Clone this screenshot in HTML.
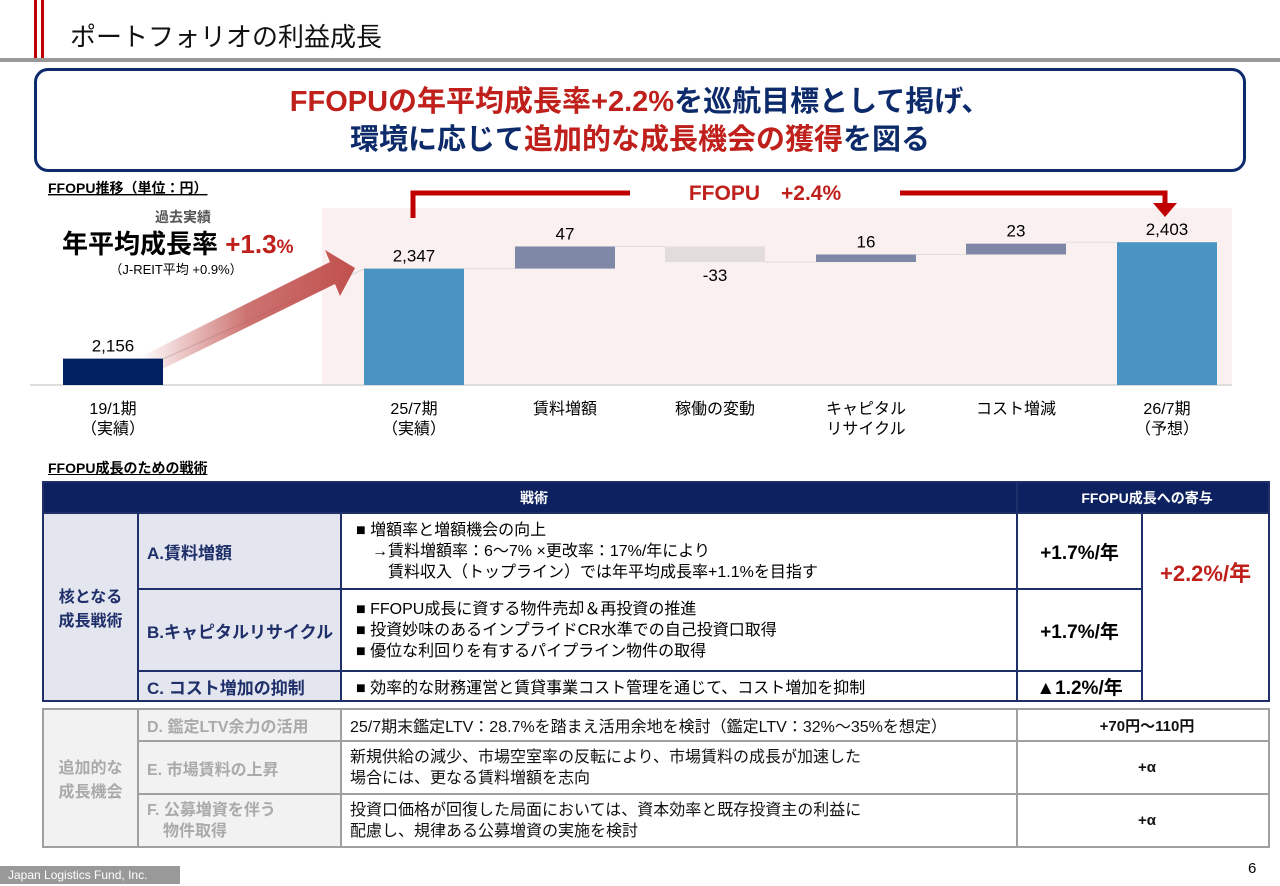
<!DOCTYPE html>
<html><head><meta charset="utf-8"><style>
body{margin:0;width:1280px;height:886px;position:relative;background:#fff;font-family:"Liberation Sans","Noto Sans CJK JP",sans-serif;overflow:hidden}
.a{position:absolute}
table{border-collapse:collapse;position:absolute;font-size:16px;table-layout:fixed}
td{border:2px solid #1f2f6a;padding:0 0 0 8px;}
.t2 td{border:2px solid #a0a0a0;color:#aaa}
</style></head><body>
<div class="a" style="left:34px;top:0;width:3px;height:62px;background:#c00000"></div>
<div class="a" style="left:41px;top:0;width:3px;height:62px;background:#c00000"></div>
<div class="a" style="left:0;top:58px;width:1280px;height:4px;background:#999"></div>
<div class="a" style="left:70px;top:17px;font-size:26px;color:#111">ポートフォリオの利益成長</div>
<div class="a" style="left:34px;top:68px;width:1206px;border:3px solid #0d2a6a;border-radius:14px;text-align:center;font-weight:bold;font-size:29px;line-height:38px;padding-top:12px;box-sizing:content-box;height:86px">
<div style="color:#c0201c">FFOPUの年平均成長率+2.2%<span style="color:#0d2a6a">を巡航目標として掲げ、</span></div>
<div style="color:#0d2a6a">環境に応じて<span style="color:#c0201c">追加的な成長機会の獲得</span>を図る</div></div>

<svg class="a" style="left:0;top:0" width="1280" height="460">
<text x="48" y="193" font-size="14" font-weight="bold" text-decoration="underline">FFOPU推移（単位：円）</text>
<rect x="322" y="208" width="910" height="177" fill="#fbf0f0"/>
<text x="183" y="222" font-size="14" fill="#555" text-anchor="middle" font-weight="bold">過去実績</text>
<text x="62" y="253" font-size="26" font-weight="bold">年平均成長率 <tspan fill="#c0201c">+1.3</tspan><tspan fill="#c0201c" font-size="19">%</tspan></text>
<text x="176" y="274" font-size="13" text-anchor="middle">（J-REIT平均 +0.9%）</text>
<line x1="163" y1="359" x2="364" y2="269" stroke="#ddd" stroke-width="1.5"/>
<defs><linearGradient id="ag" x1="0" x2="1"><stop offset="0" stop-color="#c0504d" stop-opacity="0"/><stop offset="0.5" stop-color="#c0504d" stop-opacity="0.8"/><stop offset="1" stop-color="#c0504d"/></linearGradient></defs>
<polygon points="140,357 330,262 325,250 355,268 340,296 335,284 150,375" fill="url(#ag)"/>
<line x1="30" y1="385" x2="1232" y2="385" stroke="#ddd" stroke-width="2"/>
<g id="bars"></g>
<path d="M413,218 V193 H630" stroke="#c00000" stroke-width="5" fill="none"/>
<path d="M900,193 H1165 V205" stroke="#c00000" stroke-width="5" fill="none"/>
<polygon points="1153,203 1177,203 1165,217" fill="#c00000"/>
<text x="765" y="200" font-size="21" font-weight="bold" fill="#c0201c" text-anchor="middle">FFOPU　+2.4%</text>
</svg>

<div class="a" style="left:48px;top:458px;font-size:14px;font-weight:bold;text-decoration:underline">FFOPU成長のための戦術</div>

<table style="left:42px;top:481px;width:1226px">
<colgroup><col style="width:95px"><col style="width:203px"><col style="width:676px"><col style="width:125px"><col style="width:127px"></colgroup>
<tr style="height:31px;background:#0d2160;color:#fff;font-weight:bold;font-size:14px"><td colspan="3" style="text-align:center">戦術</td><td colspan="2" style="text-align:center">FFOPU成長への寄与</td></tr>
<tr style="height:76px"><td rowspan="3" style="background:#e4e6ef;color:#1f2f6a;font-weight:bold;text-align:center;padding:0">核となる<br>成長戦術</td><td style="background:#e4e6ef;color:#1f2f6a;font-weight:bold;font-size:17px">A.賃料増額</td><td style="padding-left:14px;line-height:21px">■ 増額率と増額機会の向上<br>　→賃料増額率：6～7% ×更改率：17%/年により<br>　　賃料収入（トップライン）では年平均成長率+1.1%を目指す</td><td style="text-align:center;font-weight:bold;font-size:19px;padding:0">+1.7%/年</td><td rowspan="3" style="text-align:center;font-weight:bold;font-size:22px;color:#c0201c;padding:0 0 70px 0">+2.2%/年</td></tr>
<tr style="height:82px"><td style="background:#e4e6ef;color:#1f2f6a;font-weight:bold;font-size:17px">B.キャピタルリサイクル</td><td style="padding-left:14px;line-height:21px">■ FFOPU成長に資する物件売却＆再投資の推進<br>■ 投資妙味のあるインプライドCR水準での自己投資口取得<br>■ 優位な利回りを有するパイプライン物件の取得</td><td style="text-align:center;font-weight:bold;font-size:19px;padding:0">+1.7%/年</td></tr>
<tr style="height:30px"><td style="background:#e4e6ef;color:#1f2f6a;font-weight:bold;font-size:17px">C. コスト増加の抑制</td><td style="padding-left:14px">■ 効率的な財務運営と賃貸事業コスト管理を通じて、コスト増加を抑制</td><td style="text-align:center;font-weight:bold;font-size:19px;padding:0">▲1.2%/年</td></tr>
</table>

<table class="t2" style="left:42px;top:708px;width:1226px">
<colgroup><col style="width:95px"><col style="width:203px"><col style="width:676px"><col style="width:252px"></colgroup>
<tr style="height:32px"><td rowspan="3" style="background:#f2f2f2;font-weight:bold;text-align:center;padding:0">追加的な<br>成長機会</td><td style="background:#f2f2f2;font-weight:bold">D. 鑑定LTV余力の活用</td><td style="color:#111">25/7期末鑑定LTV：28.7%を踏まえ活用余地を検討（鑑定LTV：32%～35%を想定）</td><td style="text-align:center;font-weight:bold;color:#111;font-size:15px">+70円～110円</td></tr>
<tr style="height:53px"><td style="background:#f2f2f2;font-weight:bold">E. 市場賃料の上昇</td><td style="color:#111;line-height:21px">新規供給の減少、市場空室率の反転により、市場賃料の成長が加速した<br>場合には、更なる賃料増額を志向</td><td style="text-align:center;font-weight:bold;color:#111;font-size:15px">+α</td></tr>
<tr style="height:53px"><td style="background:#f2f2f2;font-weight:bold;line-height:21px">F. 公募増資を伴う<br>　物件取得</td><td style="color:#111;line-height:21px">投資口価格が回復した局面においては、資本効率と既存投資主の利益に<br>配慮し、規律ある公募増資の実施を検討</td><td style="text-align:center;font-weight:bold;color:#111;font-size:15px">+α</td></tr>
</table>

<div class="a" style="left:0;top:866px;width:180px;height:18px;background:#999;color:#fff;font-size:12px;line-height:18px;padding-left:8px;box-sizing:border-box">Japan Logistics Fund, Inc.</div>
<div class="a" style="left:1248px;top:860px;font-size:15px">6</div>

<script>
const categories=["19/1期|（実績）","25/7期|（実績）","賃料増額","稼働の変動","キャピタル|リサイクル","コスト増減","26/7期|（予想）"];
const values=[2156,2347,47,-33,16,23,2403];
const kinds=["total","total","delta","delta","delta","delta","total"];
const valueLabels=["2,156","2,347","47","-33","16","23","2,403"];
const centers=[113,414,565,715,866,1016,1167];
const NS="http://www.w3.org/2000/svg";
const g=document.getElementById('bars');
function y(v){return 385-(v-2100)*0.4712;}
let run=0;
values.forEach((v,i)=>{
  let top,bot,color;
  if(kinds[i]==="total"){top=y(v);bot=385;run=v;color=i===0?"#002060":"#4a94c4";}
  else{const a=run,b=run+v;top=y(Math.max(a,b));bot=y(Math.min(a,b));run=b;color=v<0?"#e2dcdc":"#8088a8";}
  if(i>1){const l=document.createElementNS(NS,'line');
    const ly=kinds[i]==="delta"?y(run-v):y(run);
    l.setAttribute('x1',centers[i-1]+50);l.setAttribute('x2',centers[i]-50);l.setAttribute('y1',ly);l.setAttribute('y2',ly);
    l.setAttribute('stroke','#ddd');
    
    
    g.appendChild(l);}
  const r=document.createElementNS(NS,'rect');
  r.setAttribute('x',centers[i]-50);r.setAttribute('width',100);r.setAttribute('y',top);r.setAttribute('height',bot-top);r.setAttribute('fill',color);
  
  
  g.appendChild(r);
  const t=document.createElementNS(NS,'text');
  t.setAttribute('x',centers[i]);t.setAttribute('text-anchor','middle');t.setAttribute('font-size','17');
  t.setAttribute('y',v<0?bot+19:top-7);t.textContent=valueLabels[i];
  
  
  g.appendChild(t);
  categories[i].split('|').forEach((s,k)=>{const c=document.createElementNS(NS,'text');
    c.setAttribute('x',centers[i]);c.setAttribute('y',414+k*20);c.setAttribute('text-anchor','middle');c.setAttribute('font-size','16');c.textContent=s;
    
    
    g.appendChild(c);});
});
</script>
</body></html>
